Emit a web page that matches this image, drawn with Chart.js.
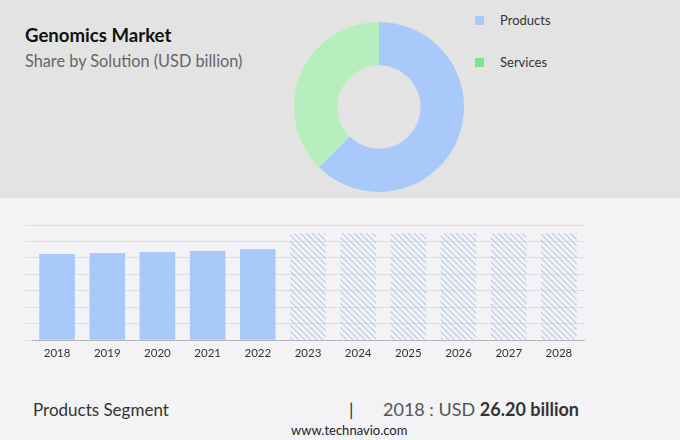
<!DOCTYPE html>
<html>
<head>
<meta charset="utf-8">
<script src="https://cdn.jsdelivr.net/npm/chart.js@4.4.1/dist/chart.umd.min.js"></script>
<style>
    body { margin: 0; width: 680px; height: 440px; background: #f3f3f5; font-family: Lato, "Open Sans", sans-serif; position: relative; overflow: hidden; }
    #top { position: absolute; left: 0; top: 0; width: 680px; height: 198px; background: #e3e3e3; }
    .abs { position: absolute; white-space: nowrap; }
    #title { left: 25px; top: 24px; font-size: 18.6px; font-weight: bold; color: #111; }
    #subtitle { left: 25px; top: 51px; font-size: 16.3px; color: #666; }
    .legend-box { position: absolute; width: 9px; height: 9px; }
    .legend-text { font-size: 13px; color: #333; }
    #donut-wrap { position: absolute; left: 294px; top: 22px; width: 170px; height: 170px; }
    #bar-wrap { position: absolute; left: 0; top: 215px; width: 600px; height: 157px; }
    #seg { left: 33px; top: 399px; font-size: 17px; color: #333; }
    #pipe { left: 349px; top: 398px; font-size: 18px; color: #333; }
    #val { left: 383px; top: 398px; font-size: 18px; color: #555; }
    #val b { color: #333; }
    #site { left: 291px; top: 422px; font-size: 13px; color: #222; }
</style>
</head>
<body>
<div id="top"></div>
<div id="title" class="abs">Genomics Market</div>
<div id="subtitle" class="abs">Share by Solution (USD billion)</div>
<div id="donut-wrap"><canvas id="donut"></canvas></div>
<div class="legend-box" style="left:475px; top:16px; background:#a9c9fb;"></div>
<div class="abs legend-text" style="left:500px; top:12px;">Products</div>
<div class="legend-box" style="left:475px; top:58px; background:#7de38f;"></div>
<div class="abs legend-text" style="left:500px; top:54px;">Services</div>
<div id="bar-wrap"><canvas id="bars"></canvas></div>
<div id="seg" class="abs">Products Segment</div>
<div id="pipe" class="abs">|</div>
<div id="val" class="abs">2018 : USD <b>26.20 billion</b></div>
<div id="site" class="abs">www.technavio.com</div>

<script>
var segments = ["Products", "Services"];
var segmentShare = [62.5, 37.5];
var segmentColors = ["#a9c9fb", "#b6efbd"];

var years = ["2018", "2019", "2020", "2021", "2022", "2023", "2024", "2025", "2026", "2027", "2028"];
var actualValues = [26.2, 26.5, 26.8, 27.1, 27.65];
var forecastValues = [32.5, 32.5, 32.5, 32.5, 32.5, 32.5];

// hatch pattern for forecast years
function makeHatch() {
    var c = document.createElement("canvas");
    c.width = 6;
    c.height = 6;
    var g = c.getContext("2d");
    g.strokeStyle = "rgba(160,192,245,0.8)";
    g.lineWidth = 1.2;
    g.beginPath();
    g.moveTo(-1, -1); g.lineTo(7, 7);
    g.moveTo(-1, 5); g.lineTo(1, 7);
    g.moveTo(5, -1); g.lineTo(7, 1);
    g.stroke();
    return g.createPattern(c, "repeat");
}
var hatch = makeHatch();

new Chart(document.getElementById("donut"), {
    type: "doughnut",
    data: {
        labels: segments,
        datasets: [{
            data: segmentShare,
            backgroundColor: segmentColors,
            borderWidth: 0
        }]
    },
    options: {
        responsive: true,
        maintainAspectRatio: false,
        animation: false,
        cutout: "49%",
        plugins: { legend: { display: false }, tooltip: { enabled: false } }
    }
});

var barValues = actualValues.concat(forecastValues);
var barColors = barValues.map(function (v, i) {
    return i < actualValues.length ? "#a9c9fb" : hatch;
});

new Chart(document.getElementById("bars"), {
    type: "bar",
    data: {
        labels: years,
        datasets: [{
            data: barValues,
            backgroundColor: barColors,
            borderWidth: 0,
            barPercentage: 0.71,
            categoryPercentage: 1
        }]
    },
    options: {
        responsive: true,
        maintainAspectRatio: false,
        animation: false,
        layout: { padding: { left: 25, right: 16, top: 10, bottom: 6 } },
        plugins: { legend: { display: false }, tooltip: { enabled: false } },
        scales: {
            x: {
                grid: { display: false, drawTicks: false },
                border: { color: "#b5b5b5" },
                ticks: { color: "#333", font: { family: "Lato", size: 11.5 }, padding: 6 }
            },
            y: {
                min: 0,
                max: 35,
                ticks: { display: false, stepSize: 5 },
                grid: { color: "#dedede", drawTicks: true, tickLength: 7 },
                border: { display: false }
            }
        }
    }
});
</script>
</body>
</html>
